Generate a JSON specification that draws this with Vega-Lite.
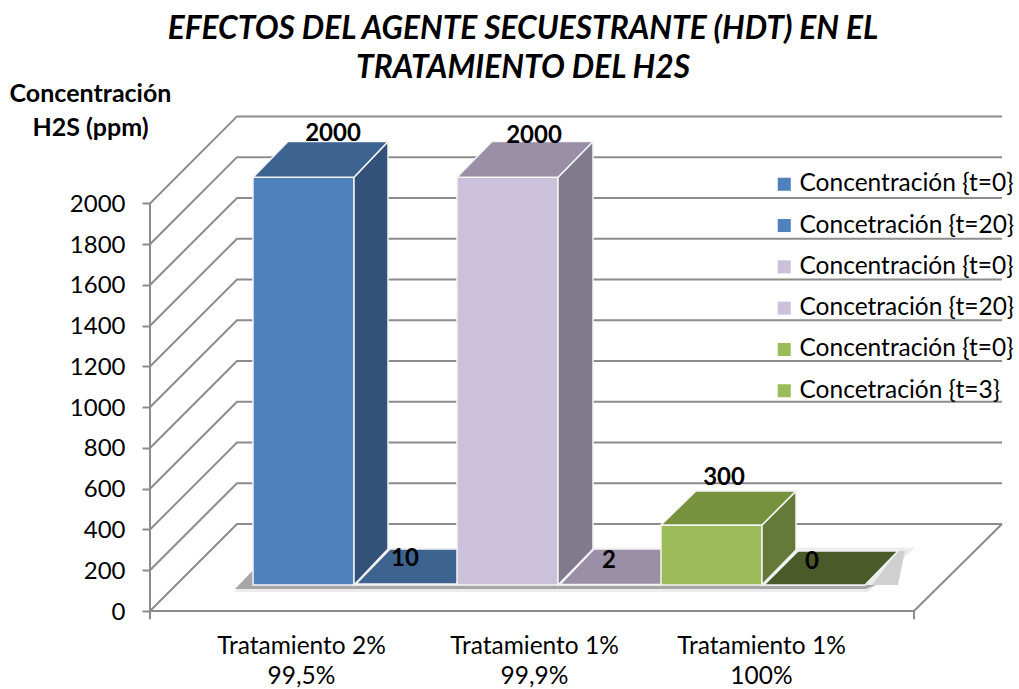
{"$schema":"https://vega.github.io/schema/vega-lite/v6.json","width":852,"height":495,"autosize":{"type":"none"},"padding":{"left":150,"top":116,"right":17,"bottom":78},"background":"#ffffff","config":{"view":{"stroke":null},"font":"Lato"},
"title":{"text":["EFECTOS DEL AGENTE SECUESTRANTE (HDT) EN EL","TRATAMIENTO DEL H2S"],"font":"Lato","fontSize":31.7,"fontWeight":"bold","fontStyle":"italic","color":"#000000","anchor":"middle","dx":-53,"offset":-4,"lineHeight":39},
"layer":[
{"data":{"values":[
{"s":"g0","x":0,"y":0},{"s":"g0","x":87,"y":427},{"s":"g0","x":852,"y":427},
{"s":"floorFront","x":0,"y":0},{"s":"floorFront","x":764,"y":0},
{"s":"floorRight","x":764,"y":0},{"s":"floorRight","x":852,"y":427},
{"s":"g200","x":0,"y":200},{"s":"g200","x":87,"y":627},{"s":"g200","x":852,"y":627},
{"s":"g400","x":0,"y":400},{"s":"g400","x":87,"y":827},{"s":"g400","x":852,"y":827},
{"s":"g600","x":0,"y":600},{"s":"g600","x":87,"y":1027},{"s":"g600","x":852,"y":1027},
{"s":"g800","x":0,"y":800},{"s":"g800","x":87,"y":1227},{"s":"g800","x":852,"y":1227},
{"s":"g1000","x":0,"y":1000},{"s":"g1000","x":87,"y":1427},{"s":"g1000","x":852,"y":1427},
{"s":"g1200","x":0,"y":1200},{"s":"g1200","x":87,"y":1627},{"s":"g1200","x":852,"y":1627},
{"s":"g1400","x":0,"y":1400},{"s":"g1400","x":87,"y":1827},{"s":"g1400","x":852,"y":1827},
{"s":"g1600","x":0,"y":1600},{"s":"g1600","x":87,"y":2027},{"s":"g1600","x":852,"y":2027},
{"s":"g1800","x":0,"y":1800},{"s":"g1800","x":87,"y":2227},{"s":"g1800","x":852,"y":2227},
{"s":"g2000","x":0,"y":2000},{"s":"g2000","x":87,"y":2427},{"s":"g2000","x":852,"y":2427},
{"s":"axisL","x":0,"y":-40},{"s":"axisL","x":0,"y":2000},
{"s":"axisR","x":764,"y":-40},{"s":"axisR","x":764,"y":0}
]},
"mark":{"type":"line","stroke":"#8c8c8c","strokeWidth":2,"interpolate":"linear"},
"encoding":{
"x":{"field":"x","type":"quantitative","scale":{"domain":[0,852],"nice":false,"zero":false},"axis":{"values":[151,384,611],"title":null,"domain":false,"ticks":false,"grid":false,"labelFont":"Lato","labelFontSize":24.5,"labelColor":"#000000","labelPadding":23,"labelAngle":0,"labelLineHeight":30,"labelExpr":"datum.value==151?['Tratamiento 2%','99,5%']:datum.value==384?['Tratamiento 1%','99,9%']:['Tratamiento 1%','100%']"}},
"y":{"field":"y","type":"quantitative","scale":{"domain":[0,2429],"nice":false,"zero":false},"axis":{"values":[0,200,400,600,800,1000,1200,1400,1600,1800,2000],"format":"d","title":["Concentración","H2S (ppm)"],"titleFont":"Lato","titleFontSize":25,"titleFontWeight":"bold","titleColor":"#000000","titleAngle":0,"titleAlign":"center","titleBaseline":"alphabetic","titleX":-60,"titleY":-15,"titleLineHeight":34,"domain":false,"grid":false,"tickColor":"#8c8c8c","tickWidth":2,"tickSize":8,"labelFont":"Lato","labelFontSize":24,"labelColor":"#000000","labelPadding":17,"labelOffset":1}},
"detail":{"field":"s"}}},
{"data":{"values":[
{"x":84,"y":93,"y2":93},{"x":135,"y":310,"y2":93},{"x":718,"y":310,"y2":93},{"x":765,"y":310,"y2":310}
]},"mark":{"type":"area","color":"#ececec"},"encoding":{"x":{"field":"x","type":"quantitative"},"y":{"field":"y","type":"quantitative"},"y2":{"field":"y2"}}},
{"data":{"values":[
{"x":85,"y":108,"y2":108},{"x":103,"y":200,"y2":108},{"x":716,"y":128,"y2":108},{"x":726,"y":128,"y2":128}
]},"mark":{"type":"area","color":"#a6a6a6"},"encoding":{"x":{"field":"x","type":"quantitative"},"y":{"field":"y","type":"quantitative"},"y2":{"field":"y2"}}},
{"data":{"values":[
{"x":715,"y":128,"y2":128},{"x":722,"y":128,"y2":128},{"x":748,"y":294,"y2":128},{"x":755,"y":294,"y2":294}
]},"mark":{"type":"area","color":"#d0d0d0"},"encoding":{"x":{"field":"x","type":"quantitative"},"y":{"field":"y","type":"quantitative"},"y2":{"field":"y2"}}},
{"data":{"values":[
{"part":"1|Concentración {t=0}","x":103,"y":2128,"y2":128},{"part":"1|Concentración {t=0}","x":204,"y":2128,"y2":128},
{"part":"A side","x":204,"y":2128,"y2":128},{"part":"A side","x":238,"y":2304,"y2":304},
{"part":"A top","x":103,"y":2128,"y2":2128},{"part":"A top","x":138,"y":2304,"y2":2128},{"part":"A top","x":204,"y":2304,"y2":2128},{"part":"A top","x":238,"y":2304,"y2":2304},
{"part":"2|Concetración {t=20}","x":206,"y":132,"y2":128},{"part":"2|Concetración {t=20}","x":306,"y":132,"y2":128},
{"part":"A plate","x":206,"y":132,"y2":132},{"part":"A plate","x":240,"y":304,"y2":132},{"part":"A plate","x":306,"y":304,"y2":132},{"part":"A plate","x":340,"y":304,"y2":304},
{"part":"3|Concentración {t=0}","x":307,"y":2128,"y2":128},{"part":"3|Concentración {t=0}","x":408,"y":2128,"y2":128},
{"part":"B side","x":408,"y":2128,"y2":128},{"part":"B side","x":443,"y":2304,"y2":304},
{"part":"B top","x":307,"y":2128,"y2":2128},{"part":"B top","x":342,"y":2304,"y2":2128},{"part":"B top","x":408,"y":2304,"y2":2128},{"part":"B top","x":443,"y":2304,"y2":2304},
{"part":"4|Concetración {t=20}","x":410,"y":130,"y2":128},{"part":"4|Concetración {t=20}","x":510,"y":130,"y2":128},
{"part":"B plate","x":410,"y":130,"y2":130},{"part":"B plate","x":444,"y":304,"y2":130},{"part":"B plate","x":510,"y":304,"y2":130},{"part":"B plate","x":544,"y":304,"y2":304},
{"part":"5|Concentración {t=0}","x":511,"y":422,"y2":128},{"part":"5|Concentración {t=0}","x":612,"y":422,"y2":128},
{"part":"C side","x":612,"y":422,"y2":128},{"part":"C side","x":646,"y":589,"y2":299},
{"part":"C top","x":511,"y":422,"y2":422},{"part":"C top","x":546,"y":589,"y2":422},{"part":"C top","x":612,"y":589,"y2":422},{"part":"C top","x":646,"y":589,"y2":589},
{"part":"6|Concetración {t=3}","x":614,"y":128,"y2":128},{"part":"6|Concetración {t=3}","x":715,"y":128,"y2":128},
{"part":"C plate","x":614,"y":128,"y2":128},{"part":"C plate","x":648,"y":294,"y2":128},{"part":"C plate","x":715,"y":294,"y2":128},{"part":"C plate","x":748,"y":294,"y2":294}
]},
"mark":{"type":"area","stroke":"#f4f4f4","strokeWidth":1.5,"opacity":1,"fillOpacity":1},
"encoding":{
"x":{"field":"x","type":"quantitative"},
"y":{"field":"y","type":"quantitative","stack":null},
"y2":{"field":"y2"},
"color":{"field":"part","type":"nominal","sort":null,"scale":{"domain":["1|Concentración {t=0}","2|Concetración {t=20}","3|Concentración {t=0}","4|Concetración {t=20}","5|Concentración {t=0}","6|Concetración {t=3}","A side","A top","A plate","B side","B top","B plate","C side","C top","C plate"],"range":["#4f81bd","#4f81bd","#ccc1da","#ccc1da","#9bbb59","#9bbb59","#32527a","#3d6391","#3d6391","#7f7a8c","#9a8fa6","#9a8fa6","#657a39","#76923c","#4a5a28"]},
"legend":{"values":["1|Concentración {t=0}","2|Concetración {t=20}","3|Concentración {t=0}","4|Concetración {t=20}","5|Concentración {t=0}","6|Concetración {t=3}"],"title":null,"orient":"none","legendX":622,"legendY":56,"symbolType":"square","symbolSize":170,"symbolStrokeWidth":0,"labelFont":"Lato","labelFontSize":24.5,"labelColor":"#000000","labelOffset":3,"rowPadding":16.3,"labelLimit":260,"labelExpr":"split(datum.label,'|')[1]"}}}},
{"data":{"values":[
{"v":2000,"x":183,"y":2340},{"v":10,"x":255,"y":255},{"v":2000,"x":384,"y":2331},{"v":2,"x":459,"y":245},{"v":300,"x":574,"y":652},{"v":0,"x":662,"y":240}
]},
"mark":{"type":"text","font":"Lato","fontSize":24,"fontWeight":"bold","color":"#000000","baseline":"middle","align":"center"},
"encoding":{"x":{"field":"x","type":"quantitative"},"y":{"field":"y","type":"quantitative"},"text":{"field":"v","type":"quantitative"}}}
]}
